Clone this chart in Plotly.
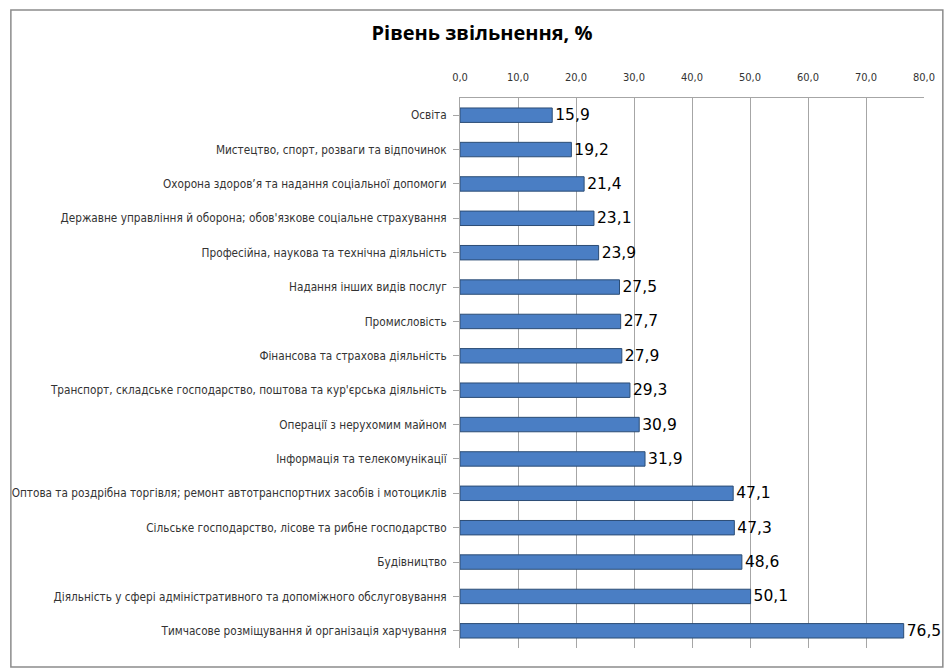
import plotly.graph_objects as go

categories = [
    "Освіта",
    "Мистецтво, спорт, розваги та відпочинок",
    "Охорона здоров’я та надання соціальної допомоги",
    "Державне управління й оборона; обов'язкове соціальне страхування",
    "Професійна, наукова та технічна діяльність",
    "Надання інших видів послуг",
    "Промисловість",
    "Фінансова та страхова діяльність",
    "Транспорт, складське господарство, поштова та кур'єрська діяльність",
    "Операції з нерухомим майном",
    "Інформація та телекомунікації",
    "Оптова та роздрібна торгівля; ремонт автотранспортних засобів і мотоциклів",
    "Сільське господарство, лісове та рибне господарство",
    "Будівництво",
    "Діяльність у сфері адміністративного та допоміжного обслуговування",
    "Тимчасове розміщування й організація харчування",
]
values = [15.9, 19.2, 21.4, 23.1, 23.9, 27.5, 27.7, 27.9, 29.3, 30.9, 31.9, 47.1, 47.3, 48.6, 50.1, 76.5]
x_ticks = [0, 10, 20, 30, 40, 50, 60, 70, 80]

W, H = 947, 670
ml, mr, mt, mb = 457, 22, 98, 22
pw, ph = W - ml - mr, H - mt - mb

def px_x(p):
    return (p - ml) / pw

def px_y(p):
    return 1 - (p - mt) / ph

fig = go.Figure(go.Bar(
    x=values,
    y=categories,
    orientation="h",
    marker=dict(color="#4A7EC4", line=dict(color="#2C4D75", width=1)),
    text=values,
    texttemplate="%{x:.1f}",
    textposition="outside",
    constraintext="none",
    textfont=dict(family="DejaVu Sans", size=15.5, color="#000000"),
    cliponaxis=False,
))

fig.update_layout(
    width=W, height=H,
    margin=dict(l=ml, r=mr, t=mt, b=mb),
    paper_bgcolor="white", plot_bgcolor="white",
    separators=", ",
    bargap=0.58,
    showlegend=False,
    title=dict(text="<b>Рівень звільнення, %</b>", x=482 / W, xanchor="center",
               y=1 - 33 / H, yanchor="middle",
               font=dict(family="Open Sans", size=20, color="#000000")),
    xaxis=dict(side="top", range=[0, 80], tickvals=x_ticks, tickformat=".1f",
               showgrid=True, gridcolor="#A6A6A6", gridwidth=1,
               zeroline=False, showline=True, linecolor="#A6A6A6",
               ticks="", ticklen=0, ticklabelstandoff=12,
               tickfont=dict(family="DejaVu Sans Condensed", size=11, color="#333333")),
    yaxis=dict(autorange="reversed", showline=True, linecolor="#A6A6A6",
               ticks="outside", ticklen=6, tickcolor="#A6A6A6",
               tickfont=dict(family="DejaVu Sans Condensed", size=11.7, color="#333333"),
               ticklabelstandoff=4),
    shapes=[dict(type="rect", xref="paper", yref="paper",
                 x0=px_x(4), x1=px_x(944), y0=px_y(667), y1=px_y(10),
                 line=dict(color="#8C8C8C", width=1.5), layer="below")],
)

fig.write_html("out.html")
